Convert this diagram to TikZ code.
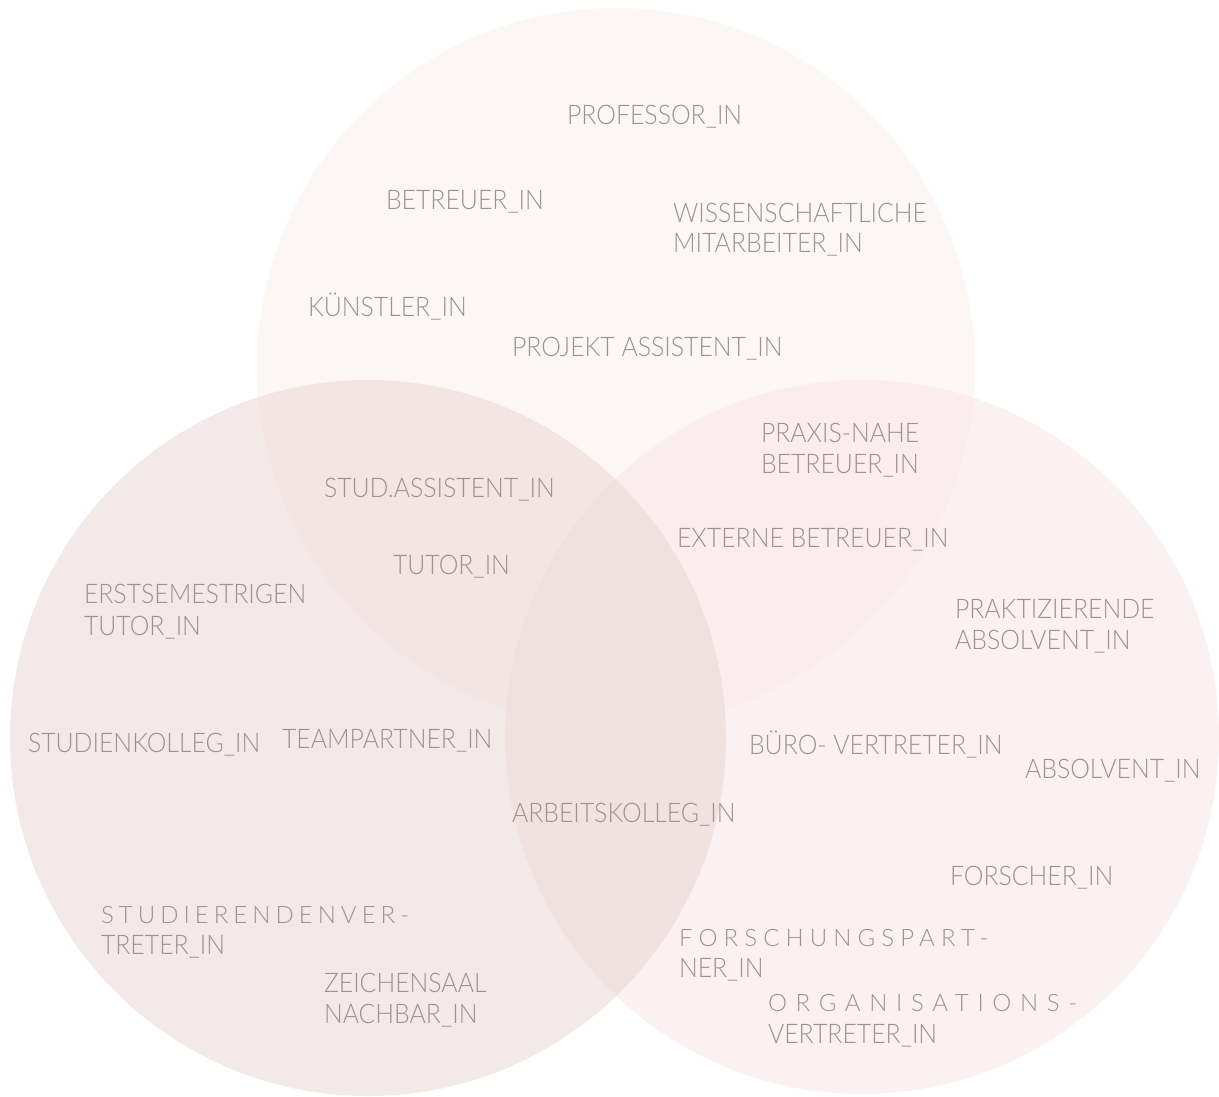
\documentclass[tikz,border=0pt]{standalone}
\usepackage{fontspec}
\IfFontExistsTF{Lato Light}{%
  \newcommand\lblfontname{Lato Light}%
}{%
  \newcommand\lblfontname{Liberation Sans}%
}
\definecolor{lblgray}{RGB}{155,146,146}
\newfontfamily\lblface[FakeStretch=0.92]{\lblfontname}
\newfontfamily\spcfaceA[LetterSpace=21]{\lblfontname}
\newfontfamily\spcfaceB[LetterSpace=25.5]{\lblfontname}
\newfontfamily\spcfaceC[LetterSpace=36]{\lblfontname}
\definecolor{topc}{RGB}{251,241,237}
\definecolor{leftc}{RGB}{233,213,211}
\definecolor{rightc}{RGB}{249,229,233}
\newcommand\lblTwo[3]{\vtop{\baselineskip=#3\relax\hbox{#1}\hbox{#2}}}
\newcommand\spc[2]{{#1\fontsize{24}{30}\selectfont #2}}
\begin{document}
\begin{tikzpicture}[x=1pt,y=-1pt,
  lbl/.style={anchor=base west,inner sep=0pt,outer sep=0pt,text=lblgray,
    font=\lblface\fontsize{27}{31}\selectfont},
  venn/.style={fill opacity=0.5,draw=none}]
\useasboundingbox (0,0) rectangle (1219,1096);
\fill[white] (0,0) rectangle (1219,1096);
% circles
\fill[venn,topc] (616,367) circle[radius=359];
\fill[venn,rightc] (862,737) circle[radius=357];
\fill[venn,leftc] (368,738) circle[radius=358];
% labels
\node[lbl] (prof) at (567,124) {PROFESSOR\_IN};
\node[lbl] (betr) at (386,209) {BETREUER\_IN};
\node[lbl] (wiss) at (673,222) {\lblTwo{WISSENSCHAFTLICHE}{MITARBEITER\_IN}{30pt}};
\node[lbl] (kuen) at (308,316) {KÜNSTLER\_IN};
\node[lbl] (proj) at (512,356) {PROJEKT ASSISTENT\_IN};
\node[lbl] (prax) at (761,442) {\lblTwo{PRAXIS-NAHE}{BETREUER\_IN}{31pt}};
\node[lbl] (stud) at (324,497) {STUD.ASSISTENT\_IN};
\node[lbl] (tuto) at (393,574) {TUTOR\_IN};
\node[lbl] (exte) at (677,547) {EXTERNE BETREUER\_IN};
\node[lbl] (erst) at (84,603) {\lblTwo{ERSTSEMESTRIGEN}{TUTOR\_IN}{32pt}};
\node[lbl] (prak) at (955,618) {\lblTwo{PRAKTIZIERENDE}{ABSOLVENT\_IN}{31pt}};
\node[lbl] (stko) at (28,752) {STUDIENKOLLEG\_IN};
\node[lbl] (team) at (282,748) {TEAMPARTNER\_IN};
\node[lbl] (buer) at (749,754) {BÜRO- VERTRETER\_IN};
\node[lbl] (abso) at (1025,778) {ABSOLVENT\_IN};
\node[lbl] (arbe) at (512,822) {ARBEITSKOLLEG\_IN};
\node[lbl] (fors) at (950,885) {FORSCHER\_IN};
\node[lbl] (stve) at (101,923) {\lblTwo{\spc{\spcfaceA}{STUDIERENDENVER-}}{TRETER\_IN}{31pt}};
\node[lbl] (zeic) at (324,992) {\lblTwo{ZEICHENSAAL}{NACHBAR\_IN}{31pt}};
\node[lbl] (fopa) at (679,946) {\lblTwo{\spc{\spcfaceB}{FORSCHUNGSPART-}}{NER\_IN}{31pt}};
\node[lbl] (orga) at (768,1011) {\lblTwo{\spc{\spcfaceC}{ORGANISATIONS-}}{VERTRETER\_IN}{32pt}};
\end{tikzpicture}
\end{document}
